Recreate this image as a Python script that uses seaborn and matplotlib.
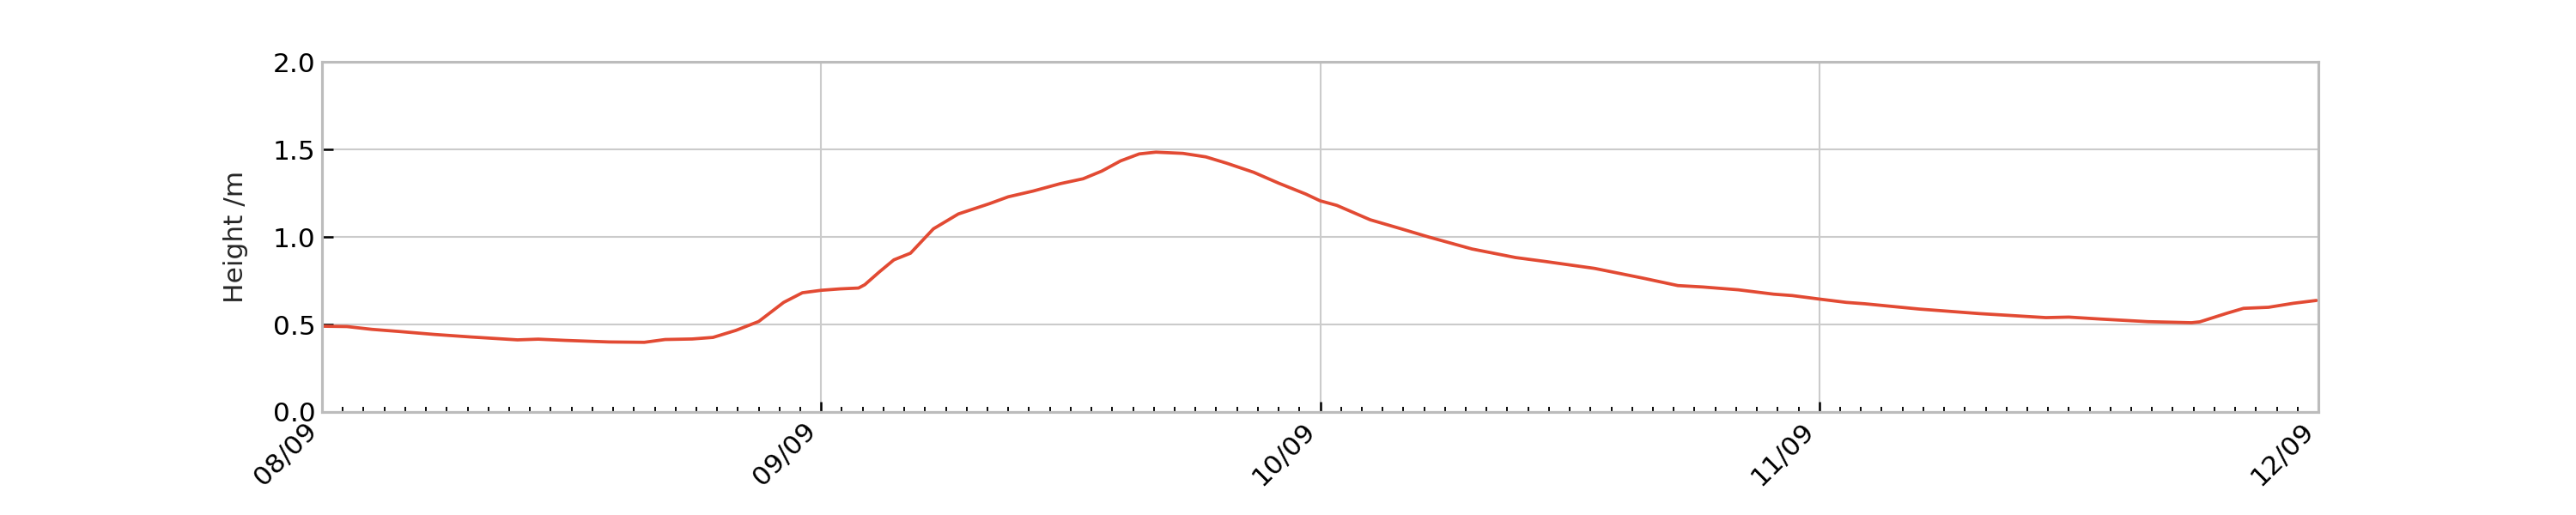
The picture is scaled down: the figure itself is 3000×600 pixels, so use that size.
import matplotlib
matplotlib.use("Agg")
import matplotlib.pyplot as plt
import matplotlib.dates as mdates
import seaborn as sns
import pandas as pd

# hours after 08/09 00:00 and measured water height (m)
hours = [0.0, 1.2, 2.4, 3.7, 5.4, 7.1, 9.4, 10.4, 11.7, 13.8, 15.5, 16.5, 17.8, 18.8,
         19.9, 21.0, 22.2, 23.1, 24.0, 24.9, 25.8, 26.1, 26.8, 27.5, 28.3, 29.4, 30.6,
         32.1, 33.0, 34.2, 35.5, 36.6, 37.5, 38.4, 39.3, 40.1, 41.4, 42.5, 43.5, 44.8,
         46.0, 47.3, 48.0, 48.8, 50.4, 51.9, 53.2, 55.3, 57.4, 58.8, 61.2, 63.5, 65.2,
         66.4, 68.1, 69.8, 70.7, 72.0, 73.3, 74.2, 76.8, 79.7, 82.9, 84.0, 85.5, 87.8,
         89.9, 90.3, 91.6, 92.4, 93.6, 94.8, 95.9]
height = [0.490, 0.488, 0.472, 0.460, 0.443, 0.429, 0.412, 0.416, 0.409, 0.400, 0.398,
          0.414, 0.417, 0.426, 0.466, 0.517, 0.626, 0.681, 0.695, 0.703, 0.708, 0.727,
          0.800, 0.869, 0.907, 1.046, 1.131, 1.190, 1.229, 1.262, 1.304, 1.332, 1.376,
          1.434, 1.474, 1.484, 1.477, 1.457, 1.421, 1.369, 1.307, 1.245, 1.206, 1.180,
          1.098, 1.046, 1.000, 0.931, 0.882, 0.860, 0.820, 0.765, 0.722, 0.714, 0.698,
          0.673, 0.665, 0.645, 0.626, 0.618, 0.588, 0.562, 0.539, 0.542, 0.531, 0.516,
          0.510, 0.515, 0.564, 0.592, 0.598, 0.621, 0.637]
start = "2024-09-08"
end = "2024-09-12"

df = pd.DataFrame({"time": pd.Timestamp(start) + pd.to_timedelta(hours, unit="h"),
                   "height": height})

sns.set_style("whitegrid", {"grid.color": "#cbcbcb", "axes.edgecolor": "#bcbcbc"})
plt.rcParams["font.family"] = ["DejaVu Sans"]

fig, ax = plt.subplots(figsize=(20, 4), dpi=150)
fig.subplots_adjust(left=0.125, right=0.9, top=0.88, bottom=0.2)

sns.lineplot(data=df, x="time", y="height", color="#e24a33", linewidth=1.8, ax=ax)

ax.set_xlim(pd.Timestamp(start), pd.Timestamp(end))
ax.set_ylim(0, 2.0)
ax.set_yticks([0, 0.5, 1.0, 1.5, 2.0])
ax.xaxis.set_major_locator(mdates.DayLocator())
ax.xaxis.set_major_formatter(mdates.DateFormatter("%d/%m"))
ax.xaxis.set_minor_locator(mdates.HourLocator())
ax.grid(True, which="major", color="#cbcbcb", linewidth=1.0)
ax.grid(False, which="minor")
for s in ax.spines.values():
    s.set_color("#bcbcbc")
    s.set_linewidth(1.5)

ax.tick_params(axis="both", which="major", direction="in", length=6, width=1.2,
               color="black", labelsize=15, labelcolor="black", bottom=True, left=True)
ax.tick_params(axis="x", which="minor", direction="in", length=3, width=0.9,
               color="black", bottom=True)
plt.setp(ax.get_xticklabels(), rotation=45, ha="right")

ax.set_xlabel("")
ax.set_ylabel("Height /m", fontsize=15, labelpad=14)

fig.savefig("out.png", dpi=150)
